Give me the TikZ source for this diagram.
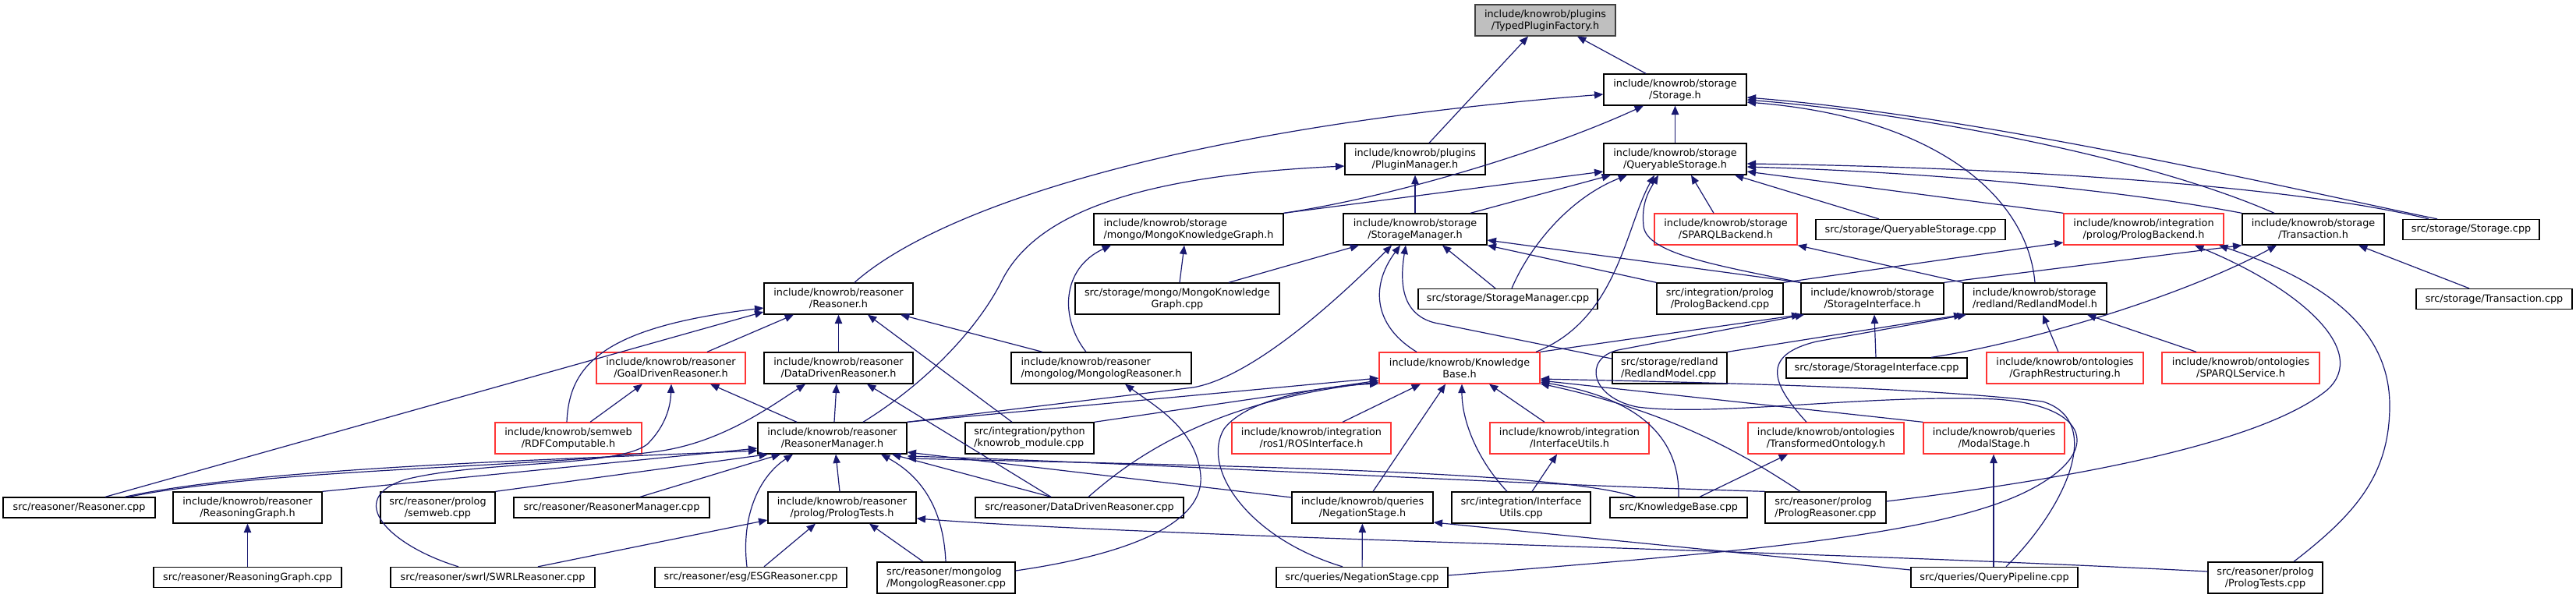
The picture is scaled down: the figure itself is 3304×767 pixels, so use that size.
\documentclass[tikz,border=0pt]{standalone}
\usepackage{fontspec}
\setmainfont{DejaVu Sans}
\usetikzlibrary{arrows.meta}
\definecolor{eblue}{HTML}{191970}
\definecolor{nred}{HTML}{FF3434}
\definecolor{rootfill}{HTML}{BFBFBF}
\definecolor{rootline}{HTML}{404040}
\newcommand{\nodefont}{\fontsize{9.6}{11.25}\selectfont}
\tikzset{
  nb/.style={draw=black, line width=1pt, fill=white, inner sep=0pt, align=center, font=\nodefont, text=black},
  rb/.style={nb, draw=nred},
  rootbox/.style={nb, fill=rootfill, draw=rootline},
  lft/.style={align=left},
  wh/.style 2 args={minimum width=#1*0.75pt, minimum height=#2*0.75pt},
  e/.style={draw=eblue, line width=0.9pt, -{Triangle[length=8.5pt,width=7pt]}}
}
\begin{document}
\begin{tikzpicture}[x=0.75pt,y=-0.75pt]
\useasboundingbox (0,0) rectangle (3304,767);
% row 0-3
\node[rootbox,wh={180}{40}] (tpf) at (1982,26) {include/knowrob/plugins\\/TypedPluginFactory.h};
\node[nb,wh={183}{40}] (storage) at (2148.5,115) {include/knowrob/storage\\/Storage.h};
\node[nb,wh={180}{40}] (plugman) at (1815,204) {include/knowrob/plugins\\/PluginManager.h};
\node[nb,wh={183}{40}] (qs) at (2148.5,204) {include/knowrob/storage\\/QueryableStorage.h};
\node[nb,lft,wh={243}{40}] (mkgh) at (1524.5,294) {include/knowrob/storage\\/mongo/MongoKnowledgeGraph.h};
\node[nb,wh={184}{40}] (smh) at (1815,294) {include/knowrob/storage\\/StorageManager.h};
\node[rb,wh={183}{40}] (sparqlb) at (2213.5,294) {include/knowrob/storage\\/SPARQLBackend.h};
\node[nb,wh={243}{26}] (qscpp) at (2450.5,294.5) {src/storage/QueryableStorage.cpp};
\node[rb,wh={205}{40}] (plbh) at (2749.5,294) {include/knowrob/integration\\/prolog/PrologBackend.h};
\node[nb,wh={182}{40}] (trh) at (2967,294) {include/knowrob/storage\\/Transaction.h};
\node[nb,wh={175}{26}] (stcpp) at (3169.5,294.5) {src/storage/Storage.cpp};
% row 4
\node[nb,wh={191}{40}] (reash) at (1075.5,383) {include/knowrob/reasoner\\/Reasoner.h};
\node[nb,wh={262}{40}] (mkgcpp) at (1510,383) {src/storage/mongo/MongoKnowledge\\Graph.cpp};
\node[nb,wh={230}{26}] (smcpp) at (1934,383.5) {src/storage/StorageManager.cpp};
\node[nb,wh={162}{40}] (plbcpp) at (2206,383) {src/integration/prolog\\/PrologBackend.cpp};
\node[nb,wh={183}{40}] (sih) at (2401.5,383) {include/knowrob/storage\\/StorageInterface.h};
\node[nb,lft,wh={184}{40}] (rmh) at (2610,383) {include/knowrob/storage\\/redland/RedlandModel.h};
\node[nb,wh={200}{26}] (trcpp) at (3199,383.5) {src/storage/Transaction.cpp};
% row 5
\node[rb,wh={191}{40}] (gdr) at (860.5,472) {include/knowrob/reasoner\\/GoalDrivenReasoner.h};
\node[nb,wh={191}{40}] (ddr) at (1075.5,472) {include/knowrob/reasoner\\/DataDrivenReasoner.h};
\node[nb,lft,wh={231}{40}] (mlrh) at (1412.5,472) {include/knowrob/reasoner\\/mongolog/MongologReasoner.h};
\node[rb,wh={206}{40}] (kbh) at (1872,472) {include/knowrob/Knowledge\\Base.h};
\node[nb,lft,wh={147}{40}] (rmcpp) at (2141.5,472) {src/storage/redland\\/RedlandModel.cpp};
\node[nb,wh={232}{26}] (sicpp) at (2407,472) {src/storage/StorageInterface.cpp};
\node[rb,wh={201}{40}] (grh) at (2648.5,472) {include/knowrob/ontologies\\/GraphRestructuring.h};
\node[rb,wh={202}{40}] (sparqls) at (2874,472) {include/knowrob/ontologies\\/SPARQLService.h};
% row 6
\node[rb,wh={188}{40}] (rdfc) at (729,562) {include/knowrob/semweb\\/RDFComputable.h};
\node[nb,wh={191}{40}] (rmgh) at (1067.5,562) {include/knowrob/reasoner\\/ReasonerManager.h};
\node[nb,lft,wh={165}{40}] (kmod) at (1320.5,562) {src/integration/python\\/knowrob\_module.cpp};
\node[rb,wh={204}{40}] (ros) at (1682,562) {include/knowrob/integration\\/ros1/ROSInterface.h};
\node[rb,wh={204}{40}] (iuh) at (2013,562) {include/knowrob/integration\\/InterfaceUtils.h};
\node[rb,wh={200}{40}] (toh) at (2342,562) {include/knowrob/ontologies\\/TransformedOntology.h};
\node[rb,wh={181}{40}] (modal) at (2557.5,562) {include/knowrob/queries\\/ModalStage.h};
% row 7
\node[nb,wh={195}{26}] (reascpp) at (101.5,651) {src/reasoner/Reasoner.cpp};
\node[nb,wh={191}{40}] (rgh) at (317.5,651) {include/knowrob/reasoner\\/ReasoningGraph.h};
\node[nb,wh={147}{40}] (semweb) at (561.5,651) {src/reasoner/prolog\\/semweb.cpp};
\node[nb,wh={251}{26}] (rmgcpp) at (784.5,651) {src/reasoner/ReasonerManager.cpp};
\node[nb,wh={190}{40}] (pth) at (1080,651) {include/knowrob/reasoner\\/prolog/PrologTests.h};
\node[nb,wh={267}{26}] (ddrcpp) at (1384.5,651) {src/reasoner/DataDrivenReasoner.cpp};
\node[nb,wh={181}{40}] (nsh) at (1747.5,651) {include/knowrob/queries\\/NegationStage.h};
\node[nb,wh={178}{40}] (iucpp) at (1951,651) {src/integration/Interface\\Utils.cpp};
\node[nb,wh={176}{26}] (kbcpp) at (2153,651) {src/KnowledgeBase.cpp};
\node[nb,lft,wh={155}{40}] (prcpp) at (2341.5,651) {src/reasoner/prolog\\/PrologReasoner.cpp};
% row 8
\node[nb,wh={241}{26}] (rgcpp) at (317.5,740.5) {src/reasoner/ReasoningGraph.cpp};
\node[nb,wh={262}{26}] (swrl) at (632,740.5) {src/reasoner/swrl/SWRLReasoner.cpp};
\node[nb,wh={246}{26}] (esg) at (963,740.5) {src/reasoner/esg/ESGReasoner.cpp};
\node[nb,lft,wh={177}{40}] (mlrcpp) at (1213.5,741) {src/reasoner/mongolog\\/MongologReasoner.cpp};
\node[nb,wh={220}{26}] (nscpp) at (1747,740.5) {src/queries/NegationStage.cpp};
\node[nb,wh={214}{26}] (qpcpp) at (2558,740.5) {src/queries/QueryPipeline.cpp};
\node[nb,wh={147}{40}] (ptcpp) at (2905.5,741) {src/reasoner/prolog\\/PrologTests.cpp};

% edges
\draw[e] (plugman.north -| 1833,0) -- (tpf.south -| 1960,0);
\draw[e] (storage.north -| 2111,0) -- (tpf.south -| 2023,0);
\draw[e] (reash.north -| 1096,0) .. controls (1200,270) and (1500,165) .. (storage.west |- 0,121);
\draw[e] (mkgh.north east) .. controls (1800,250) and (1990,190) .. (storage.south -| 2108,0);
\draw[e] (qs) -- (storage);
\draw[e] (stcpp.north -| 3126,0) .. controls (2950,245) and (2550,150) .. (storage.east |- 0,125);
\draw[e] (trh.north -| 2917,0) .. controls (2750,200) and (2450,145) .. (storage.east |- 0,128);
\draw[e] (rmh.north -| 2610,0) .. controls (2600,250) and (2480,150) .. (storage.east |- 0,131);
\draw[e] (rmgh.north -| 1107,0) .. controls (1190,490) and (1255,420) .. (1285,360) .. controls (1330,270) and (1470,225) .. (plugman.west |- 0,213);
\draw[e] (smh) -- (plugman);
\draw[e] (mkgh.north east) -- (qs.west |- 0,220);
\draw[e] (smh.north -| 1886,0) -- (qs.south -| 2066,0);
\draw[e] (smcpp.north -| 1939,0) .. controls (1960,320) and (2010,255) .. (qs.south -| 2087,0);
\draw[e] (kbh.north -| 1970,0) .. controls (2075,410) and (2085,290) .. (qs.south -| 2122,0);
\draw[e] (sih.north west) .. controls (2200,340) and (2112,325) .. (2108,290) .. controls (2105,260) and (2115,245) .. (qs.south -| 2127,0);
\draw[e] (sparqlb.north -| 2198,0) -- (qs.south -| 2169,0);
\draw[e] (qscpp.north -| 2410,0) -- (qs.south -| 2225,0);
\draw[e] (stcpp.north -| 3115,0) .. controls (2950,240) and (2600,215) .. (qs.east |- 0,210);
\draw[e] (trh.north west) .. controls (2700,240) and (2450,220) .. (qs.east |- 0,214);
\draw[e] (plbh.north west) -- (qs.east |- 0,220);
\draw[e] (mkgcpp.north -| 1513,0) -- (mkgh.south -| 1519,0);
\draw[e] (mlrh.north -| 1393,0) .. controls (1360,410) and (1360,345) .. (mkgh.south -| 1425,0);
\draw[e] (mkgcpp.north -| 1576,0) -- (smh.south -| 1743,0);
\draw[e] (rmgh.north east) -- (1530,497) .. controls (1600,485) and (1700,400) .. (smh.south -| 1785,0);
\draw[e] (kbh.north -| 1817,0) .. controls (1765,420) and (1755,370) .. (smh.south -| 1796,0);
\draw[e] (rmcpp.west |- 0,460) -- (1840,414) .. controls (1805,405) and (1793,375) .. (smh.south -| 1803,0);
\draw[e] (smcpp.north -| 1918,0) -- (smh.south -| 1850,0);
\draw[e] (plbcpp.north west) -- (smh.south east);
\draw[e] (sih.north west) -- (smh.east |- 0,308);
\draw[e] (rmh.north west) -- (sparqlb.south east);
\draw[e] (plbcpp.north east) -- (plbh.west |- 0,311);
\draw[e] (prcpp.east |- 0,643) .. controls (2650,615) and (2900,570) .. (2985,500) .. controls (3040,450) and (2950,370) .. (plbh.south -| 2815,0);
\draw[e] (ptcpp.north -| 2942,0) .. controls (3020,660) and (3065,610) .. (3065,520) .. controls (3065,420) and (2980,360) .. (plbh.south -| 2846,0);
\draw[e] (sih.north east) -- (trh.south west);
\draw[e] (sicpp.north -| 2477,0) .. controls (2600,440) and (2800,380) .. (trh.south -| 2920,0);
\draw[e] (trcpp.north -| 3167,0) -- (trh.south -| 3025,0);
\draw[e] (rmcpp.north east) -- (rmh.south west);
\draw[e] (toh.north -| 2317,0) .. controls (2270,490) and (2260,455) .. (2330,438) -- (rmh.south -| 2522,0);
\draw[e] (grh.north -| 2640,0) -- (rmh.south -| 2620,0);
\draw[e] (sparqls.north -| 2817,0) -- (rmh.south -| 2677,0);
\draw[e] (sicpp.north -| 2406,0) -- (sih.south -| 2404,0);
\draw[e] (kbh.north east) -- (sih.south west);
\draw[e] (nscpp.east |- 0,738) .. controls (2200,710) and (2480,690) .. (2600,630) .. controls (2700,580) and (2680,520) .. (2560,512) .. controls (2400,505) and (2200,535) .. (2100,522) .. controls (2040,510) and (2030,460) .. (2075,449) -- (sih.south -| 2314,0);
\draw[e] (rdfc.north -| 727,0) .. controls (730,470) and (770,420) .. (reash.west |- 0,395);
\draw[e] (reascpp.north -| 135,0) -- (reash.west |- 0,400);
\draw[e] (gdr.north -| 907,0) -- (reash.south -| 1018,0);
\draw[e] (ddr) -- (reash);
\draw[e] (kmod.north -| 1298,0) -- (reash.south -| 1113,0);
\draw[e] (mlrh.north -| 1337,0) -- (reash.south -| 1155,0);
\draw[e] (rdfc.north -| 757,0) -- (gdr.south -| 824,0);
\draw[e] (swrl.north -| 588,0) .. controls (500,700) and (440,640) .. (520,615) .. controls (620,590) and (790,600) .. (830,570) .. controls (855,545) and (860,520) .. (gdr.south -| 861,0);
\draw[e] (rmgh.north -| 1022,0) -- (gdr.south -| 911,0);
\draw[e] (reascpp.north -| 165,0) .. controls (350,600) and (700,600) .. (850,578) .. controls (930,565) and (990,520) .. (ddr.south -| 1033,0);
\draw[e] (rmgh.north -| 1070,0) -- (ddr.south -| 1073,0);
\draw[e] (ddrcpp.north -| 1348,0) -- (ddr.south -| 1112,0);
\draw[e] (mlrcpp.east |- 0,732) .. controls (1420,715) and (1545,680) .. (1540,610) .. controls (1535,550) and (1480,520) .. (mlrh.south -| 1443,0);
\draw[e] (reascpp.north -| 160,0) .. controls (330,600) and (700,590) .. (rmgh.west |- 0,578);
\draw[e] (rgh.north east) -- (rmgh.west |- 0,575);
\draw[e] (semweb.north east) -- (rmgh.south -| 985,0);
\draw[e] (rmgcpp.north -| 821,0) -- (rmgh.south -| 1001,0);
\draw[e] (esg.north -| 958,0) .. controls (950,660) and (975,610) .. (rmgh.south -| 1017,0);
\draw[e] (pth.north -| 1077,0) -- (rmgh.south -| 1072,0);
\draw[e] (mlrcpp.north -| 1213,0) .. controls (1210,650) and (1180,610) .. (rmgh.south -| 1130,0);
\draw[e] (ddrcpp.north -| 1348,0) -- (rmgh.south -| 1144,0);
\draw[e] (kbcpp.north -| 2098,0) .. controls (2000,605) and (1600,598) .. (rmgh.east |- 0,588);
\draw[e] (prcpp.north west) .. controls (1900,620) and (1500,595) .. (rmgh.east |- 0,585);
\draw[e] (nsh.west |- 0,638) -- (rmgh.east |- 0,580);
\draw[e] (rmgh.north east) -- (kbh.west |- 0,485);
\draw[e] (kmod.north east) -- (kbh.west |- 0,488);
\draw[e] (ddrcpp.north -| 1396,0) .. controls (1450,590) and (1550,515) .. (kbh.west |- 0,490);
\draw[e] (nscpp.north -| 1722,0) .. controls (1600,690) and (1540,600) .. (1570,550) .. controls (1600,510) and (1700,495) .. (kbh.west |- 0,492);
\draw[e] (ros.north -| 1722,0) -- (kbh.south -| 1822,0);
\draw[e] (nsh.north -| 1761,0) -- (kbh.south -| 1854,0);
\draw[e] (iucpp.north -| 1933,0) .. controls (1895,590) and (1875,540) .. (kbh.south -| 1875,0);
\draw[e] (iuh.north -| 1981,0) -- (kbh.south -| 1910,0);
\draw[e] (qpcpp.north -| 2573,0) .. controls (2650,650) and (2700,540) .. (2620,515) .. controls (2450,495) and (2150,490) .. (kbh.east |- 0,486);
\draw[e] (modal.north west) -- (kbh.east |- 0,488);
\draw[e] (kbcpp.north -| 2153,0) .. controls (2155,560) and (2100,510) .. (kbh.east |- 0,490);
\draw[e] (prcpp.north -| 2309,0) .. controls (2240,585) and (2150,530) .. (kbh.east |- 0,492);
\draw[e] (iucpp.north -| 1965,0) -- (iuh.south -| 1997,0);
\draw[e] (kbcpp.north -| 2180,0) -- (toh.south -| 2293,0);
\draw[e] (rgcpp) -- (rgh);
\draw[e] (swrl.north -| 690,0) -- (pth.west |- 0,667);
\draw[e] (esg.north -| 980,0) -- (pth.south -| 1046,0);
\draw[e] (mlrcpp.north -| 1184,0) -- (pth.south -| 1115,0);
\draw[e] (ptcpp.west |- 0,733) .. controls (2300,705) and (1500,690) .. (pth.east |- 0,665);
\draw[e] (nscpp) -- (nsh);
\draw[e] (qpcpp.west |- 0,731) -- (nsh.east |- 0,670);
\draw[e] (qpcpp.north -| 2557,0) -- (modal.south -| 2557,0);
\end{tikzpicture}
\end{document}
